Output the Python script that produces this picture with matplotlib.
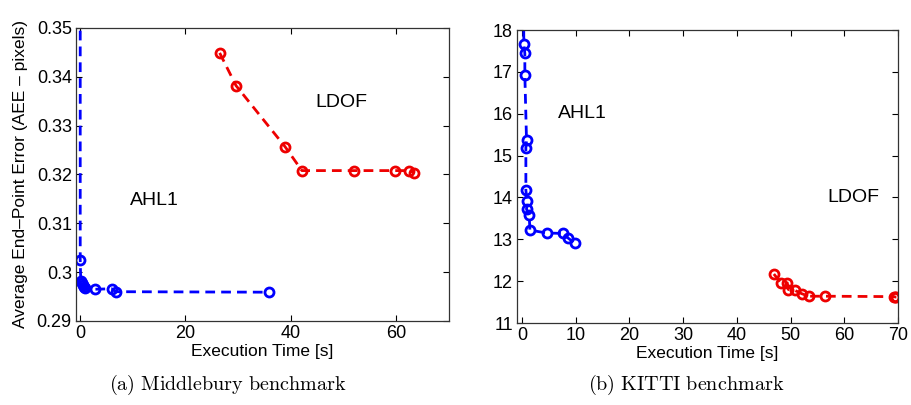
import numpy as np
import matplotlib.pyplot as plt

plt.rcParams['font.family'] = ['Liberation Sans', 'DejaVu Sans']
plt.rcParams['mathtext.fontset'] = 'cm'

# Middlebury (left)
mb_ahl_t = [0.05, 0.05, 0.15, 0.35, 0.55, 0.8, 1.0, 2.8, 6.0, 6.8, 35.8]
mb_ahl_e = [0.45, 0.3025, 0.2982, 0.2978, 0.2974, 0.2970, 0.2967, 0.2965, 0.2966, 0.2960, 0.2959]
mb_ldof_t = [26.5, 29.6, 38.9, 42.1, 52.0, 59.8, 62.4, 63.4]
mb_ldof_e = [0.3449, 0.3382, 0.3257, 0.3208, 0.3208, 0.3208, 0.3208, 0.3204]

# KITTI (right)
kt_ahl_t = [0.2, 0.37, 0.56, 0.56, 0.87, 0.75, 0.75, 1.0, 0.87, 1.37, 1.5, 4.6, 7.7, 8.5, 9.9]
kt_ahl_e = [21.0, 17.66, 17.44, 16.92, 15.37, 15.19, 14.17, 13.91, 13.72, 13.57, 13.22,
            13.15, 13.14, 13.04, 12.90]
kt_ldof_t = [46.9, 48.2, 49.4, 49.6, 50.8, 52.1, 53.4, 56.5, 69.3, 69.5, 69.7]
kt_ldof_e = [12.17, 11.96, 11.96, 11.80, 11.78, 11.70, 11.64, 11.64, 11.63, 11.62, 11.62]

W, H = 912, 405
fig = plt.figure(figsize=(W / 100, H / 100), dpi=100)
ax1 = fig.add_axes([76 / W, 1 - 321 / H, (449 - 76) / W, (321 - 28) / H])
ax2 = fig.add_axes([517 / W, 1 - 323 / H, (898 - 517) / W, (323 - 30) / H])

style = dict(ls='--', dashes=(3.5, 2.2), lw=2.0, marker='o', ms=6.5, mew=2.0, mfc='none')

ax1.plot(mb_ahl_t, mb_ahl_e, color='#0000ff', **style)
ax1.plot(mb_ldof_t, mb_ldof_e, color='#ee0000', **style)
ax1.set_xlim(-0.75, 70)
ax1.set_ylim(0.29, 0.35)
ax1.set_xticks([0, 20, 40, 60])
ax1.set_yticks([0.29, 0.30, 0.31, 0.32, 0.33, 0.34, 0.35])
ax1.set_yticklabels(['0.29', '0.3', '0.31', '0.32', '0.33', '0.34', '0.35'])
ax1.text(14.2, 0.3146, 'AHL1', fontsize=14, ha='center', va='center')
ax1.text(49.5, 0.3347, 'LDOF', fontsize=14, ha='center', va='center')
ax1.set_ylabel('Average End\u2013Point Error (AEE \u2013 pixels)', fontsize=12.5, labelpad=6)
ax1.set_xlabel('Execution Time [s]', fontsize=12.5, labelpad=1)

ax2.plot(kt_ahl_t, kt_ahl_e, color='#0000ff', **style)
ax2.plot(kt_ldof_t, kt_ldof_e, color='#ee0000', **style)
ax2.set_xlim(-0.9, 70)
ax2.set_ylim(11, 18)
ax2.set_xticks(np.arange(0, 71, 10))
ax2.set_yticks(np.arange(11, 19, 1))
ax2.text(11.2, 16.0, 'AHL1', fontsize=14, ha='center', va='center')
ax2.text(61.7, 14.0, 'LDOF', fontsize=14, ha='center', va='center')
ax2.set_xlabel('Execution Time [s]', fontsize=12.5, labelpad=1)

for ax in (ax1, ax2):
    ax.tick_params(direction='in', top=True, right=True, labelsize=13, length=4, width=0.8, pad=3)
    for s in ax.spines.values():
        s.set_linewidth(0.9)
        s.set_color('#333333')

fig.text(228 / W, 1 - 385 / H, r'$\mathrm{(a)\ Middlebury\ benchmark}$', fontsize=14.5,
         ha='center', va='center')
fig.text(686 / W, 1 - 385 / H, r'$\mathrm{(b)\ KITTI\ benchmark}$', fontsize=14.5,
         ha='center', va='center')

fig.savefig('out.png', dpi=100)
